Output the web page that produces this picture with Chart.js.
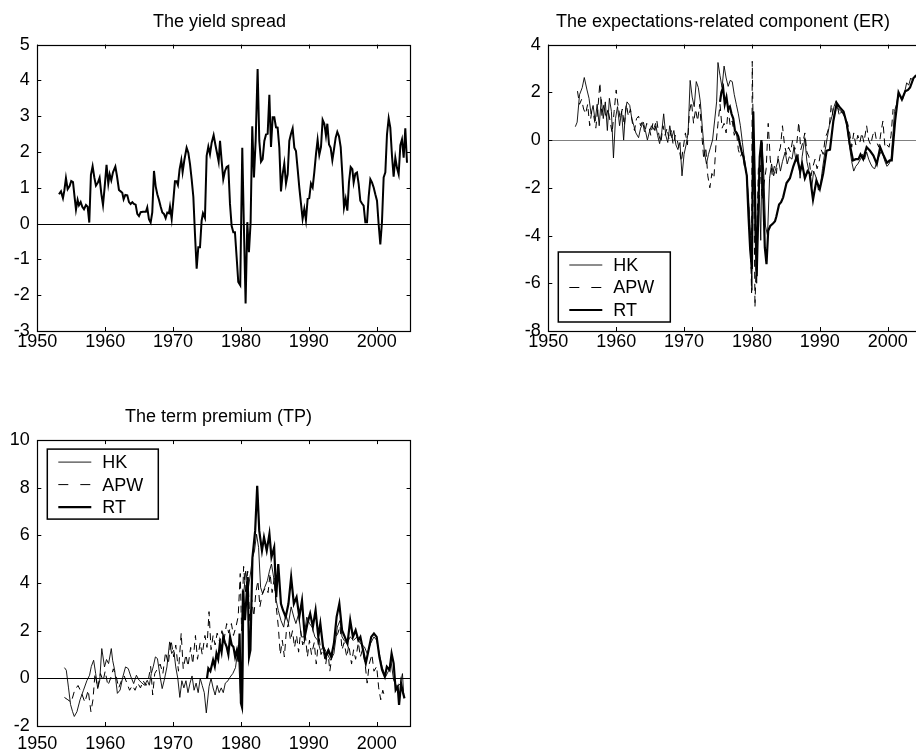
<!DOCTYPE html>
<html>
<head>
<meta charset="utf-8">
<script src="https://cdn.jsdelivr.net/npm/chart.js@4.4.1/dist/chart.umd.min.js"></script>
<style>
  html, body { margin: 0; padding: 0; background: #fff; overflow: hidden; }
  body { width: 916px; height: 756px; position: relative; }
  canvas { position: absolute; }
</style>
</head>
<body>
<canvas id="spreadChart" width="439" height="370" style="left:0;top:0"></canvas>
<canvas id="erChart" width="530" height="370" style="left:458px;top:0"></canvas>
<canvas id="tpChart" width="437" height="386" style="left:0;top:370px"></canvas>
<script>
// ---- data (quarterly, 1953-2004) ----
const yearTicks = [1950, 1960, 1970, 1980, 1990, 2000];
const spreadTicks = [-3, -2, -1, 0, 1, 2, 3, 4, 5];
const erTicks = [-8, -6, -4, -2, 0, 2, 4];
const tpTicks = [-2, 0, 2, 4, 6, 8, 10];
const seriesNames = ["HK", "APW", "RT"];

// The yield spread
const spreadYears = [1953.19,1953.49,1953.78,1953.98,1954.22,1954.47,1954.76,1955.00,1955.26,1955.50,1955.70,1955.94,1956.14,1956.39,1956.63,1956.88,1957.17,1957.42,1957.66,1957.90,1958.15,1958.40,1958.64,1958.94,1959.18,1959.43,1959.68,1959.92,1960.20,1960.46,1960.66,1960.90,1961.15,1961.50,1961.74,1962.03,1962.28,1962.52,1962.72,1962.97,1963.26,1963.51,1963.75,1964.00,1964.24,1964.49,1964.73,1964.98,1965.23,1965.57,1966.00,1966.20,1966.45,1966.70,1966.94,1967.19,1967.44,1967.68,1967.93,1968.17,1968.42,1968.66,1968.91,1969.15,1969.40,1969.55,1969.80,1970.04,1970.28,1970.53,1970.72,1970.97,1971.22,1971.41,1971.66,1972.00,1972.25,1972.50,1972.74,1972.99,1973.23,1973.48,1973.72,1973.97,1974.21,1974.41,1974.70,1974.95,1975.20,1975.44,1975.69,1975.98,1976.23,1976.47,1976.72,1976.92,1977.16,1977.40,1977.65,1977.90,1978.14,1978.39,1978.63,1978.88,1979.12,1979.37,1979.61,1979.90,1980.20,1980.44,1980.69,1980.94,1981.18,1981.43,1981.67,1981.92,1982.17,1982.46,1982.71,1982.96,1983.20,1983.45,1983.70,1983.94,1984.19,1984.43,1984.68,1984.92,1985.17,1985.41,1985.66,1985.90,1986.15,1986.39,1986.64,1986.89,1987.13,1987.38,1987.62,1987.87,1988.11,1988.36,1988.60,1988.85,1989.09,1989.34,1989.58,1989.83,1990.07,1990.32,1990.57,1990.81,1991.06,1991.30,1991.55,1991.80,1992.04,1992.29,1992.53,1992.73,1992.98,1993.22,1993.47,1993.71,1993.96,1994.20,1994.45,1994.70,1994.94,1995.19,1995.43,1995.68,1995.92,1996.17,1996.42,1996.61,1996.86,1997.10,1997.35,1997.59,1997.84,1998.08,1998.33,1998.58,1998.82,1999.07,1999.31,1999.56,1999.80,2000.05,2000.29,2000.54,2000.78,2001.03,2001.28,2001.52,2001.77,2002.01,2002.26,2002.50,2002.75,2003.00,2003.24,2003.49,2003.73,2003.98,2004.22,2004.47];
const spreadValues = [0.82,0.90,0.71,0.92,1.27,0.96,1.05,1.19,1.16,0.73,0.39,0.66,0.51,0.60,0.47,0.40,0.52,0.47,0.03,1.36,1.60,1.29,1.06,1.15,1.28,0.84,0.52,1.01,1.64,1.12,1.38,1.21,1.43,1.59,1.33,0.94,0.90,0.86,0.68,0.80,0.79,0.60,0.55,0.60,0.55,0.53,0.27,0.21,0.32,0.33,0.33,0.45,0.12,0.03,0.31,1.47,1.04,0.82,0.66,0.48,0.31,0.27,0.15,0.31,0.29,0.47,0.13,0.64,1.18,1.18,1.08,1.52,1.77,1.44,1.77,2.12,1.98,1.66,1.24,0.75,-0.29,-1.26,-0.66,-0.66,0.08,0.29,0.16,1.89,2.15,1.94,2.26,2.47,2.21,1.98,1.73,2.31,1.75,1.24,1.47,1.58,1.61,0.55,-0.06,-0.24,-0.24,-0.94,-1.63,-1.72,2.12,-0.10,-2.23,0.04,-0.80,0.04,2.72,1.29,2.31,4.32,2.31,1.73,1.80,2.31,2.49,2.51,3.60,2.14,2.97,2.97,2.69,2.68,2.12,0.90,1.38,1.68,1.12,1.38,2.31,2.51,2.66,2.12,2.03,1.52,1.01,0.56,0.13,0.41,0.10,0.69,0.71,1.12,1.01,1.43,1.94,2.34,1.92,2.14,2.90,2.79,2.46,2.79,2.21,2.12,1.77,2.07,2.40,2.56,2.44,2.14,1.38,0.45,0.69,0.36,1.15,1.58,1.52,1.15,1.40,1.43,1.10,0.64,0.56,0.50,0.04,0.04,0.75,1.24,1.15,1.01,0.82,0.64,-0.01,-0.58,0.04,1.29,1.43,2.49,2.94,2.68,1.89,1.31,1.84,1.55,1.38,2.19,2.35,1.84,2.66,1.70];

// The expectations-related component (ER)
const erHkYears = [1953.98,1954.25,1954.6,1955.0,1955.3,1955.7,1956.0,1956.3,1956.6,1956.9,1957.2,1957.5,1957.8,1958.1,1958.4,1958.7,1959.0,1959.3,1959.6,1959.9,1960.2,1960.5,1960.8,1961.1,1961.4,1961.6,1962.0,1962.3,1962.6,1962.9,1963.3,1963.6,1964.0,1964.3,1964.6,1964.9,1965.2,1965.5,1965.8,1966.1,1966.4,1966.7,1967.0,1967.3,1967.6,1967.9,1968.2,1968.5,1968.8,1969.1,1969.4,1969.7,1970.0,1970.3,1970.6,1970.9,1971.2,1971.5,1971.8,1972.1,1972.4,1972.7,1973.0,1973.3,1973.6,1973.9,1974.2,1974.5,1974.8,1975.0,1975.3,1975.6,1975.9,1976.2,1976.5,1976.8,1977.1,1977.4,1977.7,1978.0,1978.3,1978.6,1978.9,1979.2,1979.5,1979.8,1980.0,1980.2,1980.45,1980.7,1980.9,1981.1,1981.3,1981.5,1981.75,1982.0,1982.3,1982.6,1982.9,1983.2,1983.5,1983.9,1984.2,1984.5,1984.9,1985.2,1985.5,1985.9,1986.2,1986.5,1986.8,1987.1,1987.4,1987.8,1988.1,1988.4,1988.8,1989.1,1989.5,1989.8,1990.1,1990.4,1990.8,1991.1,1991.4,1991.8,1992.1,1992.4,1992.7,1993.0,1993.4,1993.8,1994.1,1994.4,1994.7,1995.0,1995.3,1995.6,1996.0,1996.3,1996.6,1996.9,1997.2,1997.5,1997.8,1998.1,1998.4,1998.7,1999.0,1999.3,1999.6,1999.9,2000.2,2000.5,2000.8,2001.0,2001.3,2001.6,2001.9,2002.2,2002.5,2002.8,2003.1,2003.4,2003.7,2004.0,2004.3,2004.6];
const erHkValues = [0.56,0.75,1.9,2.2,2.62,2.1,1.75,1.1,1.45,0.8,1.5,0.6,1.7,0.9,1.6,0.4,1.75,1.2,-0.75,0.9,1.4,0.6,1.2,0.0,1.3,1.6,1.45,0.9,0.6,0.3,0.1,0.5,0.75,0.4,0.0,0.35,0.6,0.45,0.7,0.2,-0.15,0.3,1.1,0.2,-0.1,0.6,0.1,0.4,-0.2,-0.4,-0.1,-1.5,-0.6,-0.2,0.3,2.5,1.8,1.4,2.45,2.2,1.6,0.5,-0.5,-1.0,-0.6,-0.3,0.0,0.8,1.6,3.25,2.7,2.2,3.1,2.6,2.25,2.5,2.45,1.9,1.5,1.1,0.6,-0.1,-0.8,-1.4,-2.4,-4.0,-6.3,1.2,-3.9,-6.0,-3.2,-2.3,-4.2,-0.1,-1.4,-3.6,-4.0,-1.6,-1.0,-1.5,-1.2,-0.8,-1.3,-0.9,-0.5,-1.0,-0.7,-0.8,-0.3,-0.9,-0.6,-1.6,-0.7,0.1,-0.9,-1.3,-2.0,-1.3,-1.6,-2.1,-1.9,-1.2,-0.4,0.1,0.6,1.0,1.4,1.65,1.3,1.25,1.1,0.9,0.4,-0.3,-0.9,-1.3,-1.1,-1.0,-0.8,-0.6,-0.8,-0.5,-0.8,-1.0,-1.15,-1.2,-0.9,-0.7,-0.5,-0.6,-0.9,-1.1,-1.0,-0.8,0.3,1.2,1.5,2.0,1.8,1.7,2.0,2.4,2.3,2.6,2.5,2.7,2.7,2.75];

const erApwYears = [1954.3,1954.6,1954.9,1955.2,1955.5,1955.8,1956.1,1956.4,1956.7,1957.0,1957.3,1957.6,1957.9,1958.2,1958.5,1958.8,1959.1,1959.4,1959.7,1960.0,1960.3,1960.6,1960.9,1961.2,1961.5,1961.8,1962.1,1962.4,1962.7,1963.0,1963.3,1963.6,1963.9,1964.2,1964.5,1964.8,1965.1,1965.4,1965.7,1966.0,1966.3,1966.6,1966.9,1967.2,1967.5,1967.8,1968.1,1968.4,1968.7,1969.0,1969.3,1969.6,1969.9,1970.2,1970.5,1970.8,1971.1,1971.4,1971.7,1972.0,1972.3,1972.6,1972.9,1973.2,1973.5,1973.8,1974.1,1974.4,1974.7,1975.0,1975.3,1975.6,1975.9,1976.2,1976.5,1976.8,1977.1,1977.4,1977.7,1978.0,1978.3,1978.6,1978.9,1979.2,1979.5,1979.8,1979.95,1980.05,1980.3,1980.45,1980.7,1980.95,1981.2,1981.5,1981.8,1982.1,1982.4,1982.7,1983.0,1983.3,1983.6,1983.9,1984.2,1984.5,1984.8,1985.1,1985.4,1985.7,1986.0,1986.3,1986.6,1986.9,1987.2,1987.5,1987.8,1988.1,1988.4,1988.7,1989.0,1989.3,1989.6,1989.9,1990.2,1990.5,1990.8,1991.1,1991.4,1991.7,1992.0,1992.3,1992.6,1992.9,1993.2,1993.5,1993.8,1994.1,1994.4,1994.7,1995.0,1995.3,1995.6,1995.9,1996.2,1996.5,1996.9,1997.2,1997.5,1997.8,1998.1,1998.4,1998.7,1999.0,1999.3,1999.6,1999.9,2000.2,2000.5,2000.8];
const erApwValues = [2.05,1.5,1.7,1.3,1.1,1.5,0.6,1.2,1.0,0.5,1.3,2.4,1.0,1.5,0.9,1.3,0.8,0.3,1.2,2.1,1.4,0.9,1.3,0.6,1.5,1.0,1.3,0.7,0.4,0.9,1.0,0.6,0.8,0.3,0.7,0.6,0.2,0.7,0.4,0.8,0.2,-0.1,0.6,0.2,0.5,0.0,0.4,-0.2,0.2,0.0,-0.4,-0.9,-0.3,0.3,-0.2,1.2,1.6,0.7,1.3,0.8,1.5,0.3,-0.8,-0.3,-1.5,-2.0,-1.4,-1.6,-0.2,0.7,1.5,0.5,0.7,0.3,1.3,0.6,0.8,0.2,0.4,-0.4,-0.7,-0.5,-1.1,-1.4,-2.6,-4.5,-6.4,3.3,-2.0,-7.0,-4.3,-1.2,-1.0,-2.5,-1.8,-1.2,0.7,-0.8,-1.5,-1.1,-1.4,-0.6,-0.3,0.6,-0.2,-0.6,-0.3,-0.5,0.0,-0.4,-0.2,0.75,-0.4,-0.1,0.3,-0.5,-0.7,-1.5,-1.1,-0.8,-1.2,-0.9,-0.4,-0.6,0.1,0.3,0.6,1.5,0.9,1.2,1.4,1.0,1.2,1.1,0.9,0.7,0.3,-0.3,0.3,-0.2,0.2,-0.1,0.3,-0.1,0.6,0.0,-0.2,0.2,0.4,-0.1,-0.3,0.3,0.8,-0.3,-0.2,-0.3,0.2,1.3];

const erRtYears = [1975.3,1975.5,1975.75,1976.0,1976.25,1976.5,1976.75,1977.0,1977.25,1977.5,1977.75,1978.0,1978.25,1978.5,1978.75,1979.0,1979.25,1979.5,1979.75,1980.0,1980.2,1980.45,1980.7,1980.9,1981.15,1981.4,1981.65,1981.9,1982.15,1982.4,1982.7,1983.1,1983.4,1983.6,1984.0,1984.3,1984.6,1985.1,1985.6,1986.1,1986.6,1987.1,1987.4,1987.8,1988.2,1988.5,1989.0,1989.5,1990.0,1990.5,1991.0,1991.5,1992.0,1992.5,1993.0,1993.5,1994.0,1994.4,1994.9,1995.3,1995.7,1996.0,1996.4,1996.9,1997.4,1997.9,1998.4,1998.9,1999.4,1999.9,2000.3,2000.6,2001.1,2001.6,2002.1,2002.6,2003.0,2003.3,2003.8,2004.2,2004.6];
const erRtValues = [1.6,2.0,2.2,1.5,1.8,1.3,1.4,1.1,0.9,0.4,0.3,0.15,-0.2,-0.5,-0.7,-1.1,-1.5,-3.2,-4.6,-5.4,1.2,-2.1,-5.7,-3.5,-0.7,0.0,-2.1,-4.5,-5.2,-3.8,-3.6,-3.5,-3.4,-3.2,-2.7,-2.6,-2.4,-1.8,-1.6,-1.1,-0.7,-1.3,-1.0,-1.6,-1.3,-1.4,-2.5,-1.7,-2.05,-1.4,-0.45,-0.4,0.8,1.55,1.35,1.2,0.65,-0.15,-0.85,-0.8,-0.8,-0.6,-0.8,-0.3,-0.45,-0.65,-1.0,-0.3,-0.65,-0.95,-0.85,-0.85,0.8,2.0,1.7,2.05,2.1,2.2,2.6,2.7,2.65];

// The term premium (TP)
const tpHkYears = [1954.0,1954.27,1954.6,1954.9,1955.2,1955.45,1955.84,1956.3,1956.8,1957.3,1957.7,1957.96,1958.3,1958.6,1958.9,1959.2,1959.5,1959.9,1960.2,1960.5,1960.9,1961.1,1961.4,1961.8,1962.2,1962.6,1963.0,1963.4,1963.8,1964.2,1964.6,1965.0,1965.4,1965.8,1966.2,1966.5,1966.8,1967.1,1967.4,1967.7,1968.1,1968.4,1968.7,1969.1,1969.5,1969.8,1970.1,1970.4,1970.7,1971.0,1971.3,1971.6,1971.9,1972.2,1972.5,1972.8,1973.1,1973.4,1973.7,1974.0,1974.3,1974.6,1974.9,1975.3,1975.6,1975.9,1976.2,1976.5,1976.8,1977.1,1977.4,1977.7,1978.1,1978.4,1978.8,1979.2,1979.6,1979.9,1980.25,1980.45,1980.7,1981.1,1981.4,1981.7,1982.0,1982.3,1982.6,1982.9,1983.2,1983.5,1983.9,1984.2,1984.5,1984.9,1985.2,1985.5,1985.9,1986.3,1986.6,1987.0,1987.4,1987.8,1988.1,1988.5,1988.9,1989.3,1989.7,1990.1,1990.5,1990.9,1991.3,1991.7,1992.2,1992.7,1993.2,1993.7,1994.2,1994.6,1994.9,1995.2,1995.6,1996.1,1996.6,1997.1,1997.6,1998.2,1998.6,1999.1,1999.6,2000.0,2000.3,2000.8,2001.3,2001.8,2002.1,2002.5,2003.0,2003.5,2003.8,2004.0];
const tpHkValues = [0.45,0.34,-0.4,-1.1,-1.4,-1.6,-1.4,-0.9,-0.5,-0.1,0.13,0.5,0.76,0.2,-0.43,-0.08,1.25,0.48,0.79,0.62,1.25,0.76,0.34,-0.63,-0.49,0.06,0.48,0.41,0.06,-0.22,0.13,-0.08,-0.19,-0.29,-0.08,-0.29,0.2,0.51,0.9,0.83,0.06,-0.43,-0.08,0.48,1.53,1.04,1.18,0.48,0.0,-0.8,-0.1,-0.4,-0.1,-0.6,-0.2,0.1,-0.5,-0.2,-0.6,0.0,-0.3,-0.6,-1.45,-0.35,0.0,-0.4,-0.7,-0.3,-0.6,-0.4,-0.6,-0.2,-0.1,0.05,0.2,0.45,1.3,-0.6,-1.3,3.68,4.5,3.8,4.38,5.07,5.35,6.05,5.5,3.82,3.55,3.82,4.1,4.5,4.8,4.1,3.27,2.85,2.43,2.15,2.7,2.3,3.0,2.57,2.3,2.7,1.74,1.74,2.57,2.3,2.15,1.74,1.6,1.18,1.32,1.04,0.76,1.04,2.15,2.43,1.74,1.6,1.46,1.74,1.6,1.74,1.46,1.32,1.04,1.46,1.74,1.6,1.18,0.48,0.06,0.34,0.76,-0.08,-0.36,-0.22,0.2,-0.77];

const tpApwYears = [1954.0,1954.5,1955.0,1955.5,1956.0,1956.5,1957.0,1957.5,1957.9,1958.2,1958.5,1958.9,1959.3,1959.7,1960.0,1960.4,1960.8,1961.2,1961.6,1962.0,1962.4,1962.8,1963.2,1963.6,1964.0,1964.4,1964.8,1965.2,1965.6,1966.0,1966.4,1966.7,1967.0,1967.3,1967.7,1968.1,1968.5,1968.9,1969.3,1969.7,1970.1,1970.4,1970.8,1971.2,1971.5,1971.9,1972.2,1972.6,1972.9,1973.3,1973.6,1974.0,1974.3,1974.7,1975.0,1975.3,1975.6,1975.9,1976.2,1976.5,1976.9,1977.2,1977.5,1977.9,1978.2,1978.6,1978.9,1979.3,1979.6,1979.9,1980.1,1980.4,1980.7,1981.0,1981.3,1981.6,1981.9,1982.2,1982.5,1982.8,1983.1,1983.4,1983.7,1984.0,1984.3,1984.6,1984.9,1985.2,1985.5,1985.8,1986.1,1986.4,1986.7,1987.0,1987.3,1987.6,1987.9,1988.2,1988.5,1988.8,1989.1,1989.5,1989.8,1990.1,1990.4,1990.8,1991.1,1991.5,1991.8,1992.1,1992.5,1992.8,1993.1,1993.5,1993.9,1994.3,1994.6,1994.9,1995.2,1995.6,1995.9,1996.3,1996.6,1996.9,1997.3,1997.6,1997.9,1998.3,1998.6,1998.9,1999.3,1999.6,2000.0,2000.3,2000.6,2000.9,2001.2];
const tpApwValues = [-0.8,-0.9,-1.0,-0.5,-0.3,-0.6,-1.0,-0.5,-1.4,-0.9,0.2,-0.4,0.2,-0.1,0.3,-0.3,0.0,0.4,0.1,-0.4,-0.1,0.1,-0.2,-0.5,-0.3,-0.5,-0.2,-0.4,-0.1,-0.3,0.0,0.5,-0.7,0.2,0.4,0.6,0.2,1.1,0.6,1.6,0.9,1.4,0.3,1.9,0.4,1.0,0.5,1.3,0.6,1.8,0.8,1.5,1.0,1.8,1.3,2.8,1.2,1.8,1.4,1.9,1.5,2.0,1.6,2.3,1.9,2.3,1.8,2.2,2.6,4.4,2.0,4.7,3.6,4.5,2.4,3.3,2.6,3.6,4.1,3.0,3.5,3.7,3.8,3.6,4.4,3.6,4.2,3.0,2.2,1.0,1.6,0.9,2.0,2.3,1.6,2.0,1.3,1.8,1.1,2.0,1.4,1.8,0.9,1.6,1.0,1.5,0.6,1.8,1.0,1.2,0.6,1.2,0.3,1.1,1.7,1.9,2.2,1.2,1.5,0.9,1.4,0.6,1.2,0.8,1.5,0.9,1.2,0.6,-0.2,0.6,1.0,0.3,0.5,-0.4,-0.9,-0.5,-0.8];

const tpRtYears = [1975.0,1975.2,1975.5,1975.9,1976.15,1976.4,1976.65,1976.9,1977.15,1977.4,1977.65,1977.9,1978.15,1978.4,1978.65,1978.9,1979.15,1979.4,1979.65,1979.8,1980.0,1980.15,1980.3,1980.6,1981.0,1981.2,1981.4,1981.7,1982.1,1982.4,1982.7,1983.1,1983.4,1983.8,1984.2,1984.5,1984.9,1985.2,1985.5,1985.9,1986.2,1986.6,1987.0,1987.4,1987.8,1988.2,1988.6,1989.0,1989.4,1989.8,1990.2,1990.6,1991.0,1991.4,1991.7,1992.1,1992.5,1992.9,1993.3,1993.7,1994.1,1994.5,1994.9,1995.3,1995.7,1996.1,1996.5,1996.9,1997.3,1997.6,1998.0,1998.4,1998.8,1999.2,1999.6,2000.0,2000.4,2000.8,2001.2,2001.5,2001.9,2002.2,2002.5,2002.8,2003.1,2003.3,2003.6,2003.9,2004.1];
const tpRtValues = [0.0,0.42,0.3,0.77,0.5,1.04,0.8,1.46,1.1,1.74,1.5,1.32,1.0,1.74,1.4,1.32,0.9,1.18,0.7,1.88,-1.04,-1.2,3.69,2.44,4.25,0.9,1.18,5.08,6.2,8.08,6.2,5.36,5.92,5.36,6.06,5.08,5.5,3.41,4.8,3.13,2.86,2.58,3.13,4.25,3.13,3.41,2.58,3.27,1.74,2.3,2.72,2.16,2.86,1.74,2.3,1.32,0.9,1.18,0.9,1.46,2.58,3.13,2.02,1.74,1.46,2.44,1.74,2.02,1.6,1.74,1.18,0.63,1.18,1.74,1.88,1.74,0.9,0.35,0.07,0.49,0.35,1.04,0.63,-0.49,-0.35,-1.11,-0.21,-0.63,-0.84];

// ---- helpers ----
const FONT = "'Liberation Sans', Arial, Helvetica, sans-serif";
const pairs = (xs, ys) => xs.map((x, i) => ({ x: x, y: ys[i] }));

// box, inward ticks, zero line and an in-axes legend, drawn from the chart's scales
const framePlugin = {
  id: "frame",
  beforeDatasetsDraw(chart, args, opts) {
    const { ctx, chartArea: a, scales: { y } } = chart;
    const y0 = Math.round(y.getPixelForValue(0)) + 0.5;
    ctx.save();
    ctx.strokeStyle = opts.zeroColor || "#000";
    ctx.lineWidth = 1;
    ctx.beginPath();
    ctx.moveTo(a.left, y0);
    ctx.lineTo(a.right, y0);
    ctx.stroke();
    ctx.restore();
  },
  afterDraw(chart, args, opts) {
    const { ctx, chartArea: a, scales: { x, y } } = chart;
    const tl = 4;
    ctx.save();
    ctx.strokeStyle = "#000";
    ctx.lineWidth = 1;
    ctx.beginPath();
    x.ticks.forEach(t => {
      const px = Math.round(x.getPixelForValue(t.value)) + 0.5;
      ctx.moveTo(px, a.top); ctx.lineTo(px, a.top + tl);
      ctx.moveTo(px, a.bottom); ctx.lineTo(px, a.bottom - tl);
    });
    y.ticks.forEach(t => {
      const py = Math.round(y.getPixelForValue(t.value)) + 0.5;
      ctx.moveTo(a.left, py); ctx.lineTo(a.left + tl, py);
      ctx.moveTo(a.right, py); ctx.lineTo(a.right - tl, py);
    });
    ctx.stroke();
    ctx.lineWidth = 1.2;
    ctx.strokeRect(Math.round(a.left) + 0.5, Math.round(a.top) + 0.5,
                   Math.round(a.right - a.left), Math.round(a.bottom - a.top));

    if (opts.legend) {
      const L = opts.legend;
      const bx = a.left + L.dx;
      const by = L.fromBottom ? a.bottom - L.fromBottom - L.h : a.top + L.dy;
      ctx.fillStyle = "#fff";
      ctx.fillRect(bx, by, L.w, L.h);
      ctx.lineWidth = 1.5;
      ctx.strokeRect(bx, by, L.w, L.h);
      ctx.font = "18px " + FONT;
      ctx.textBaseline = "middle";
      ctx.fillStyle = "#000";
      chart.data.datasets.forEach((ds, i) => {
        const ry = by + 13 + i * 22.5;
        ctx.save();
        ctx.lineWidth = ds.borderWidth;
        ctx.setLineDash(ds.borderDash && ds.borderDash.length ? [10, 12] : []);
        ctx.beginPath();
        ctx.moveTo(bx + 11, ry);
        ctx.lineTo(bx + 44, ry);
        ctx.stroke();
        ctx.restore();
        ctx.fillText(ds.label, bx + 55, ry + 1);
      });
    }
    ctx.restore();
  }
};

// an empty right-hand axis holds the gap on the right, so the full-width
// title stays centred on the canvas while the y labels keep their own box
function makeChart(id, cfg) {
  const el = document.getElementById(id);
  if (!el) return null;
  return new Chart(el, {
    type: "line",
    data: { datasets: cfg.datasets },
    options: {
      responsive: false,
      animation: false,
      layout: { padding: { left: 0, right: 0, top: 0, bottom: cfg.padBottom } },
      elements: { point: { radius: 0 }, line: { tension: 0, borderCapStyle: "butt", borderJoinStyle: "miter" } },
      plugins: {
        legend: { display: false },
        tooltip: { enabled: false },
        title: {
          display: true,
          text: cfg.title,
          color: "#000",
          font: { family: FONT, size: 18, weight: "normal" },
          padding: { top: cfg.titleTop, bottom: cfg.titleBottom }
        },
        frame: { zeroColor: cfg.zeroColor, legend: cfg.legend }
      },
      scales: {
        x: {
          type: "linear",
          min: 1950,
          max: 2005,
          afterBuildTicks: s => { s.ticks = yearTicks.map(v => ({ value: v })); },
          afterFit: s => { s.height = 30; },
          grid: { display: false, drawTicks: false },
          border: { display: false },
          ticks: { color: "#000", padding: cfg.xPad, maxRotation: 0, font: { family: FONT, size: 18 }, callback: v => String(v) }
        },
        y: {
          type: "linear",
          position: "left",
          min: cfg.yTicks[0],
          max: cfg.yTicks[cfg.yTicks.length - 1],
          afterBuildTicks: s => { s.ticks = cfg.yTicks.map(v => ({ value: v })); },
          afterFit: s => { s.width = cfg.left; },
          grid: { display: false, drawTicks: false },
          border: { display: false },
          ticks: { color: "#000", padding: 7.5, font: { family: FONT, size: 18 }, callback: v => String(v) }
        },
        gap: {
          type: "linear",
          position: "right",
          display: true,
          afterFit: s => { s.width = cfg.rightGap; },
          grid: { display: false, drawTicks: false },
          border: { display: false },
          ticks: { display: false }
        }
      }
    },
    plugins: [framePlugin]
  });
}

function threeSeries(hkX, hkY, apwX, apwY, rtX, rtY) {
  return [
    { label: seriesNames[0], data: pairs(hkX, hkY), borderColor: "#000", borderWidth: 0.9, fill: false },
    { label: seriesNames[1], data: pairs(apwX, apwY), borderColor: "#000", borderWidth: 1, borderDash: [7, 5], fill: false },
    { label: seriesNames[2], data: pairs(rtX, rtY), borderColor: "#000", borderWidth: 2.2, fill: false }
  ];
}

try {
  makeChart("spreadChart", {
    title: "The yield spread",
    titleTop: 11, titleBottom: 12,
    left: 37.3, rightGap: 28.4, padBottom: 9, xPad: 0,
    yTicks: spreadTicks,
    zeroColor: "#000",
    datasets: [{ label: "Spread", data: pairs(spreadYears, spreadValues), borderColor: "#000", borderWidth: 2, fill: false }]
  });

  makeChart("erChart", {
    title: "The expectations-related component (ER)",
    titleTop: 11, titleBottom: 12,
    left: 90.3, rightGap: 66.4, padBottom: 9, xPad: 0,
    yTicks: erTicks,
    zeroColor: "#808080",
    legend: { dx: 10, fromBottom: 9, w: 112, h: 70 },
    datasets: threeSeries(erHkYears, erHkValues, erApwYears, erApwValues, erRtYears, erRtValues)
  });

  makeChart("tpChart", {
    title: "The term premium (TP)",
    titleTop: 36.5, titleBottom: 12,
    left: 37.3, rightGap: 26.4, padBottom: 0, xPad: 7.5,
    yTicks: tpTicks,
    zeroColor: "#000",
    legend: { dx: 10, dy: 9, w: 111, h: 70 },
    datasets: threeSeries(tpHkYears, tpHkValues, tpApwYears, tpApwValues, tpRtYears, tpRtValues)
  });
} catch (e) {
  console.error("chart build failed:", e);
}
</script>
</body>
</html>
